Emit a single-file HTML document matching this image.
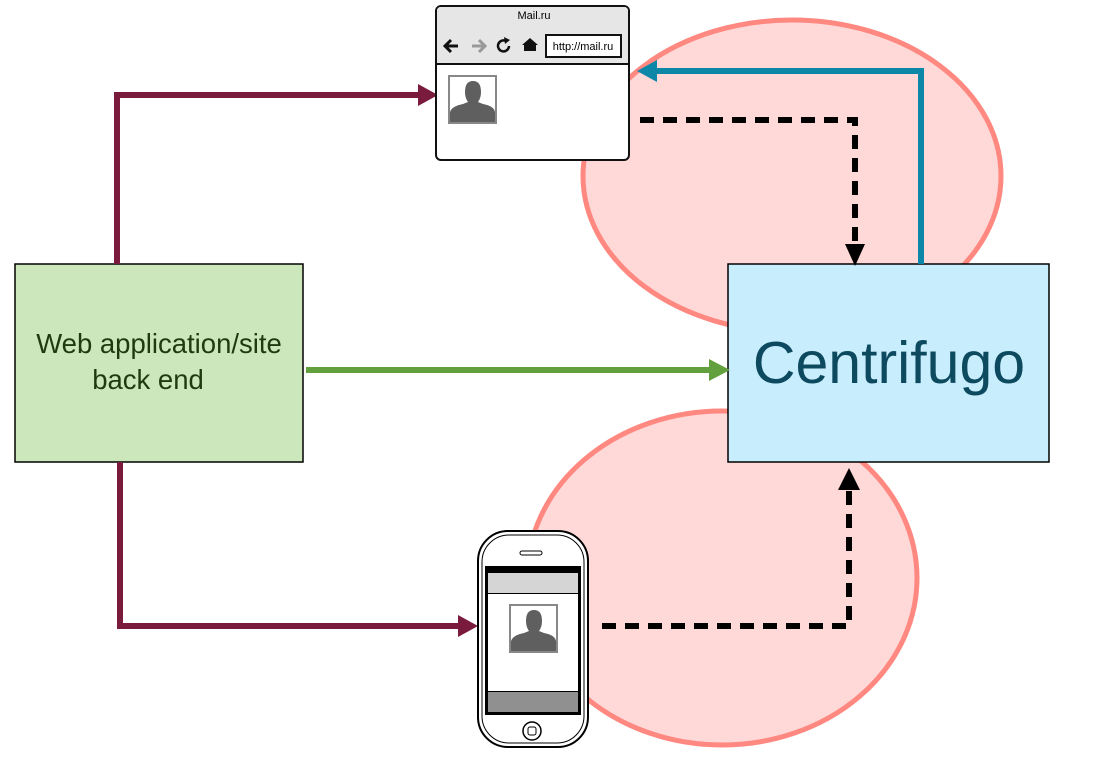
<!DOCTYPE html>
<html><head><style>body{margin:0;background:#fff;}svg{display:block}</style></head>
<body>
<svg width="1115" height="762" viewBox="0 0 1115 762" xmlns="http://www.w3.org/2000/svg" font-family="Liberation Sans, Arial, sans-serif">
<defs>
<g id="person"><rect x="0" y="0" width="47" height="47" fill="#fff" stroke="#888" stroke-width="2"/>
<path d="M1,46 L1,36 Q3,30 14,28 L19,26 Q16,22 16,16 Q16,5 24,5 Q32,5 32,16 Q32,22 29,26 L34,28 Q45,30 46,36 L46,46 Z" fill="#5f5f5f"/></g>
</defs>
<ellipse cx="792" cy="176" rx="209" ry="156" fill="#ffd8d8" stroke="#ff8880" stroke-width="5"/>
<ellipse cx="722" cy="578" rx="195" ry="167" fill="#ffd8d8" stroke="#ff8880" stroke-width="5"/>
<rect x="15" y="264" width="288" height="198" fill="#cce7bb" stroke="#000" stroke-width="1.5"/>
<text x="159" y="353" font-size="27.5" text-anchor="middle" fill="#1e3a10">Web application/site</text>
<text x="148" y="389" font-size="27.5" text-anchor="middle" fill="#1e3a10">back end</text>
<rect x="728" y="264" width="321" height="198" fill="#c8edfc" stroke="#000" stroke-width="1.5"/>
<text x="889" y="383" font-size="59" text-anchor="middle" fill="#0d4a60">Centrifugo</text>
<polyline points="117,264 117,95 424,95" fill="none" stroke="#7a1a3c" stroke-width="6"/>
<polygon points="438,95 418,84 418,106" fill="#7a1a3c"/>
<polyline points="120,462 120,626 462,626" fill="none" stroke="#7a1a3c" stroke-width="6"/>
<polygon points="478,626 458,615 458,637" fill="#7a1a3c"/>
<line x1="306" y1="370" x2="714" y2="370" stroke="#62a03e" stroke-width="6"/>
<polygon points="730,370 709,359 709,381" fill="#62a03e"/>
<polyline points="921,264 921,71 654,71" fill="none" stroke="#0c87a8" stroke-width="6"/>
<polygon points="637,71 657,60 657,82" fill="#0c87a8"/>
<polyline points="640,120 855,120 855,246" fill="none" stroke="#000" stroke-width="6" stroke-dasharray="14,9"/>
<polygon points="855,266 845,244 865,244" fill="#000"/>
<polyline points="602,626 849,626 849,490" fill="none" stroke="#000" stroke-width="6" stroke-dasharray="14,9"/>
<polygon points="849,468 838,490 860,490" fill="#000"/>
<rect x="436" y="6" width="193" height="154" rx="5" fill="#fff" stroke="#111" stroke-width="2"/>
<path d="M437,64 L437,11 Q437,7 441,7 L624,7 Q628,7 628,11 L628,64 Z" fill="#e6e6e6"/>
<line x1="436" y1="64" x2="629" y2="64" stroke="#111" stroke-width="2"/>
<text x="534" y="19" font-size="11" text-anchor="middle">Mail.ru</text>
<path d="M458,46 L446,46 M451,40 L445,46 L451,52" fill="none" stroke="#111" stroke-width="3"/>
<path d="M472,46 L484,46 M479,40 L485,46 L479,52" fill="none" stroke="#999" stroke-width="3"/>
<path d="M509,46 A5.5,5.5 0 1 1 506,41" fill="none" stroke="#111" stroke-width="2.5"/>
<polygon points="504,37 510,40 505,44" fill="#111"/>
<path d="M522,45 L530,38 L538,45 L536,45 L536,51 L524,51 L524,45 Z" fill="#111"/>
<rect x="546" y="35" width="75" height="22" fill="#fff" stroke="#111" stroke-width="2"/>
<text x="583" y="50" font-size="11" text-anchor="middle">http://mail.ru</text>
<use href="#person" x="449" y="76"/>
<rect x="478" y="531" width="110" height="216" rx="30" fill="#fff" stroke="#000" stroke-width="2"/>
<rect x="482" y="535" width="102" height="208" rx="27" fill="none" stroke="#000" stroke-width="1"/>
<rect x="520" y="551" width="22" height="4" rx="2" fill="none" stroke="#000" stroke-width="1"/>
<rect x="485" y="566" width="96" height="149" fill="#000"/>
<rect x="488" y="573" width="90" height="20" fill="#d5d5d5"/>
<rect x="488" y="594" width="90" height="97" fill="#fff"/>
<rect x="488" y="692" width="90" height="20" fill="#909090"/>
<use href="#person" x="510" y="605"/>
<circle cx="532" cy="731" r="9" fill="#fff" stroke="#000" stroke-width="1.5"/>
<rect x="528" y="727" width="8" height="8" rx="2" fill="none" stroke="#000" stroke-width="1"/>
</svg>
</body></html>
